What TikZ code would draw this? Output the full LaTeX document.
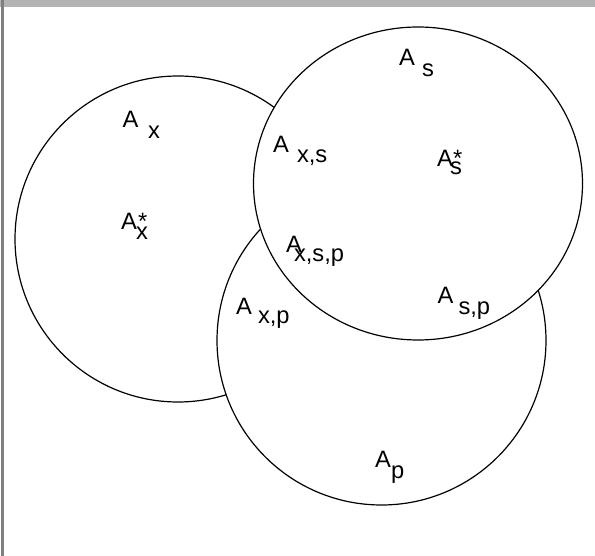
\documentclass[tikz,border=0pt]{standalone}
\usepackage{fontspec}
\setmainfont{Liberation Sans}
\usetikzlibrary{positioning}
\definecolor{bandgray}{RGB}{179,179,179}
\definecolor{edgegray}{RGB}{128,128,128}
% label: A, gap, lowered subscript
\newcommand{\setlbl}[3]{A\hspace*{#1}\raisebox{-#2}{#3}}
\newcommand{\starlbl}[4]{A\rlap{\hspace*{#1}*}\hspace*{#2}\raisebox{-#3}{#4}}

\begin{document}
\begin{tikzpicture}[x=1pt,y=-1pt,font=\fontsize{23.7}{28}\selectfont,
  setline/.style={line width=1.2pt,fill=white},
  lbl/.style={inner sep=0pt,anchor=base west}]
  \useasboundingbox (0,0) rectangle (595,556);
  \fill[bandgray] (0,0) rectangle (595,7.5);
  \fill[edgegray] (1,0) rectangle (4,556);
  % the three sets, drawn back to front
  \filldraw[setline] (178,239) circle[radius=163];
  \filldraw[setline] (381.5,340.5) circle[radius=164.5];
  \filldraw[setline] (418,183.5) ellipse[x radius=164.5,y radius=156.5];
  % labels
  \node[lbl] (ax)   at (122.5,128) {\setlbl{9.5pt}{11pt}{x}};
  \node[lbl] (axst) at (121,230)   {\starlbl{1pt}{-1pt}{10pt}{x}};
  \node[lbl] (as)   at (399,66)    {\setlbl{7pt}{11pt}{s}};
  \node[lbl] (asst) at (437,167)   {\starlbl{0pt}{-3pt}{8pt}{s}};
  \node[lbl] (axs)  at (273,153)   {\setlbl{8pt}{10pt}{x,s}};
  \node[lbl] (axsp) at (286,253)   {\setlbl{-8pt}{9pt}{x,s,p}};
  \node[lbl] (axp)  at (236,315)   {\setlbl{6pt}{9pt}{x,p}};
  \node[lbl] (asp)  at (437.5,304) {\setlbl{5pt}{11pt}{s,p}};
  \node[lbl] (ap)   at (375,467)   {\setlbl{0pt}{11pt}{p}};
\end{tikzpicture}
\end{document}
